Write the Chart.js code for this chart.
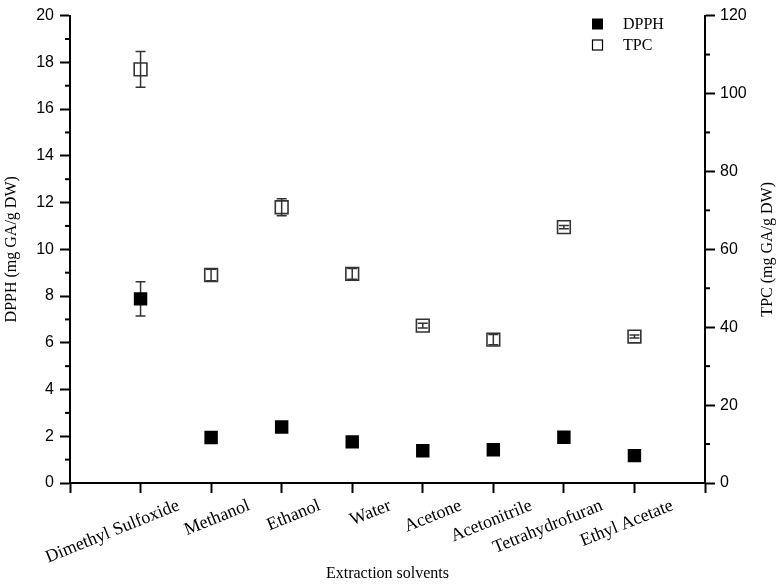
<!DOCTYPE html>
<html>
<head>
<meta charset="utf-8">
<script src="https://cdn.jsdelivr.net/npm/chart.js@4.4.1/dist/chart.umd.min.js"></script>
<style>
  html, body { margin: 0; padding: 0; background: #fff; }
</style>
</head>
<body>
<canvas id="chart" width="780" height="585"></canvas>
<script>
// values
const solvents = ['Dimethyl Sulfoxide', 'Methanol', 'Ethanol', 'Water', 'Acetone', 'Acetonitrile', 'Tetrahydrofuran', 'Ethyl Acetate'];
const dpph = [7.88, 1.95, 2.40, 1.76, 1.38, 1.42, 1.96, 1.17];
const dpphErr = [0.73, 0.1, 0.1, 0.1, 0.1, 0.1, 0.1, 0.1];
const tpc = [106.2, 53.4, 70.8, 53.7, 40.4, 36.8, 65.7, 37.6];
const tpcErr = [4.6, 1.5, 2.2, 1.4, 0.6, 1.3, 0.4, 0.4];

const serif = 'Liberation Serif';
const sans = 'Liberation Sans';

// drawn under the markers so the filled squares hide the short bars
const errorBars = {
   id: 'errorBars',
   beforeDatasetsDraw(chart) {
      const ctx = chart.ctx
      ctx.save()
      ctx.strokeStyle = '#333'
      ctx.lineWidth = 1.5
      chart.data.datasets.forEach(ds => {
         const yScale = chart.scales[ds.yAxisID]
         const xScale = chart.scales.x
         ds.data.forEach((p, j) => {
            const e = ds.errors[j]
            const x = xScale.getPixelForValue(p.x)
            const yt = yScale.getPixelForValue(p.y + e)
            const yb = yScale.getPixelForValue(p.y - e)
            ctx.beginPath()
            ctx.moveTo(x, yt); ctx.lineTo(x, yb)
            ctx.moveTo(x - 5, yt); ctx.lineTo(x + 5, yt)
            ctx.moveTo(x - 5, yb); ctx.lineTo(x + 5, yb)
            ctx.stroke()
         })
      })
      ctx.restore()
   }
}

// half-step ticks on both value axes + right title reading upwards
const axisExtras = {
   id: 'axisExtras',
   afterDraw(chart) {
      const ctx = chart.ctx
      ctx.save()
      ctx.strokeStyle = '#000'
      ctx.lineWidth = 2
      const y = chart.scales.y, y1 = chart.scales.y1
      for (let v = 1; v < 20; v += 2) {
         const py = y.getPixelForValue(v)
         ctx.beginPath(); ctx.moveTo(y.right, py); ctx.lineTo(y.right - 5, py); ctx.stroke()
      }
      for (let v = 10; v < 120; v += 20) {
         const py = y1.getPixelForValue(v)
         ctx.beginPath(); ctx.moveTo(y1.left, py); ctx.lineTo(y1.left + 5, py); ctx.stroke()
      }
      ctx.translate(768, (chart.chartArea.top + chart.chartArea.bottom) / 2)
      ctx.rotate(-Math.PI / 2)
      ctx.font = '16px "' + serif + '"'
      ctx.fillStyle = '#000'
      ctx.textAlign = 'center'
      ctx.textBaseline = 'middle'
      ctx.fillText(y1.options.title.text, 0, 0)
      ctx.restore()
   }
}

const boxLegend = {
   id: 'boxLegend',
   afterDraw(chart) {
      const ctx = chart.ctx
      ctx.save()
      ctx.font = '16px "' + serif + '"'
      ctx.textBaseline = 'middle'
      ctx.fillStyle = '#000'
      chart.data.datasets.forEach((ds, i) => {
         const cy = 24 + i * 21
         if (ds.backgroundColor === '#000') {
            ctx.fillRect(592, cy - 5.5, 11, 11)
         } else {
            ctx.lineWidth = 1.2
            ctx.strokeStyle = '#000'
            ctx.strokeRect(592.5, cy - 5, 10, 10)
         }
         ctx.fillText(ds.label, 623, cy + 1)
      })
      ctx.restore()
   }
}

new Chart(document.getElementById('chart'), {
   type: 'scatter',
   data: {
      datasets: [{
         label: 'DPPH',
         data: dpph.map((v, i) => ({ x: i + 1, y: v })),
         errors: dpphErr,
         yAxisID: 'y',
         pointStyle: 'rect',
         radius: 9.5,
         backgroundColor: '#000',
         borderColor: '#000',
         borderWidth: 0
      }, {
         label: 'TPC',
         data: tpc.map((v, i) => ({ x: i + 1, y: v })),
         errors: tpcErr,
         yAxisID: 'y1',
         pointStyle: 'rect',
         radius: 9,
         backgroundColor: 'rgba(0,0,0,0)',
         borderColor: '#333',
         borderWidth: 1.6
      }]
   },
   options: {
      responsive: false,
      devicePixelRatio: 1,
      animation: false,
      layout: { padding: { top: 10, left: 0, right: 0, bottom: 0 } },
      plugins: {
         legend: { display: false },
         tooltip: { enabled: false }
      },
      scales: {
         x: {
            type: 'linear',
            min: 0,
            max: 9,
            afterFit: s => { s.height = 102 },
            border: { color: '#000', width: 2 },
            grid: { drawOnChartArea: false, tickLength: 10, tickColor: '#000', tickWidth: 2 },
            ticks: {
               stepSize: 1,
               autoSkip: false,
               maxRotation: 22,
               minRotation: 22,
               labelOffset: 38,
               padding: 2,
               color: '#000',
               font: { family: serif, size: 18 },
               callback: v => solvents[v - 1] || ''
            },
            title: {
               display: true,
               text: 'Extraction solvents',
               color: '#000',
               font: { family: serif, size: 16 },
               padding: { top: 0, bottom: 2 }
            }
         },
         y: {
            position: 'left',
            min: 0,
            max: 20,
            afterFit: s => { s.width = 70 },
            border: { color: '#000', width: 2 },
            grid: { drawOnChartArea: false, tickLength: 10, tickColor: '#000', tickWidth: 2 },
            ticks: { stepSize: 2, padding: 6, color: '#000', font: { family: sans, size: 16 } },
            title: {
               display: true,
               text: 'DPPH (mg GA/g DW)',
               color: '#000',
               font: { family: serif, size: 16 },
               padding: { top: 2, bottom: 0 }
            }
         },
         y1: {
            position: 'right',
            min: 0,
            max: 120,
            afterFit: s => { s.width = 75 },
            border: { color: '#000', width: 2 },
            grid: { drawOnChartArea: false, tickLength: 10, tickColor: '#000', tickWidth: 2 },
            ticks: { stepSize: 20, padding: 5, color: '#000', font: { family: sans, size: 16 } },
            title: {
               display: false,
               text: 'TPC (mg GA/g DW)'
            }
         }
      }
   },
   plugins: [errorBars, axisExtras, boxLegend]
})
</script>
</body>
</html>
